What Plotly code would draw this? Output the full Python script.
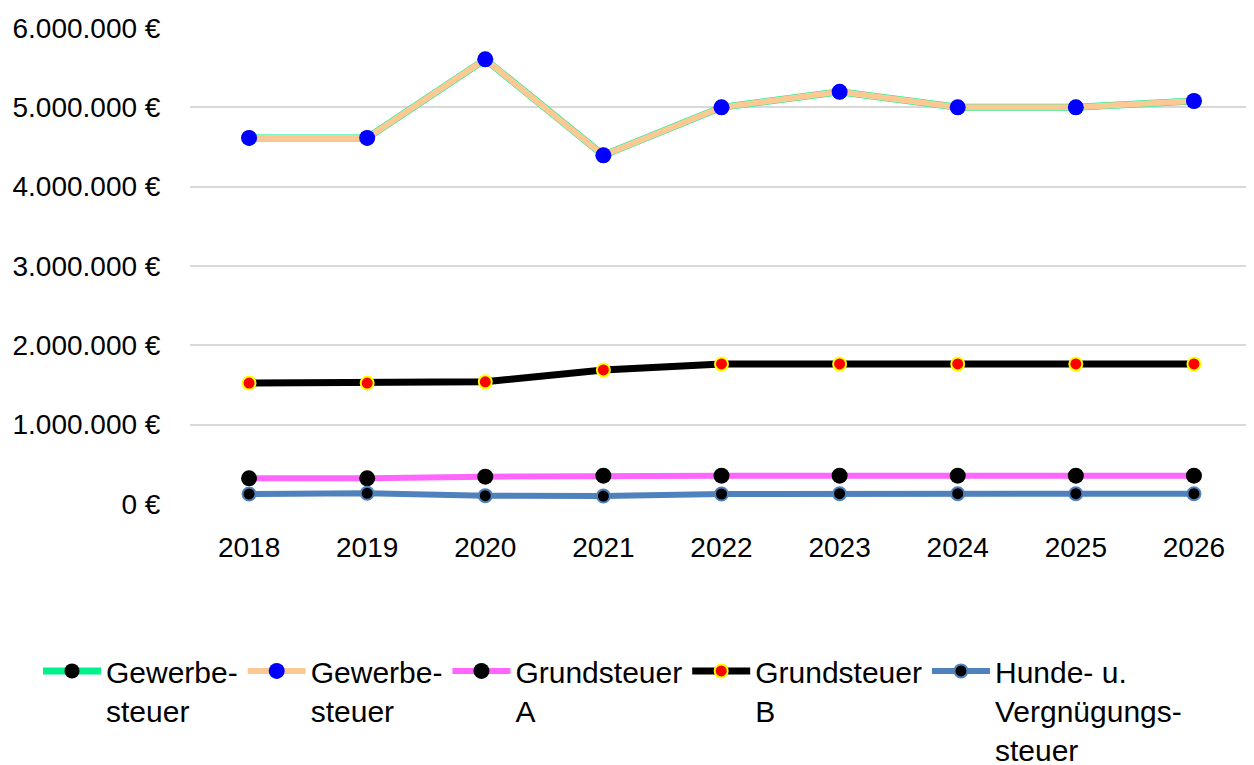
import plotly.graph_objects as go

years = ["2018", "2019", "2020", "2021", "2022", "2023", "2024", "2025", "2026"]
gewerbe = [4615000, 4615000, 5605000, 4395000, 5000000, 5195000, 5000000, 5000000, 5080000]
grund_a = [324000, 324000, 345000, 357000, 357000, 357000, 357000, 357000, 357000]
grund_b = [1525000, 1525000, 1540000, 1690000, 1765000, 1765000, 1765000, 1765000, 1765000]
hunde = [126000, 135000, 105000, 100000, 126000, 130000, 130000, 130000, 130000]

y_ticks = [0, 1000000, 2000000, 3000000, 4000000, 5000000, 6000000]
y_tick_text = ["0 €", "1.000.000 €", "2.000.000 €", "3.000.000 €", "4.000.000 €", "5.000.000 €", "6.000.000 €"]

names = ["Gewerbe-<br>steuer", "Gewerbe-<br>steuer", "Grundsteuer<br>A", "Grundsteuer<br>B",
         "Hunde- u.<br>Vergnügungs-<br>steuer"]

FONT = "Liberation Sans, Arial, sans-serif"

fig = go.Figure()
fig.add_trace(go.Scatter(x=years, y=gewerbe, name=names[0], mode="lines+markers",
                         line=dict(color="#00F08C", width=7),
                         marker=dict(color="black", size=15)))
fig.add_trace(go.Scatter(x=years, y=gewerbe, name=names[1], mode="lines+markers",
                         line=dict(color="#FCC995", width=6),
                         marker=dict(color="#0000FF", size=16)))
fig.add_trace(go.Scatter(x=years, y=grund_a, name=names[2], mode="lines+markers",
                         line=dict(color="#FF66FF", width=6),
                         marker=dict(color="black", size=16)))
fig.add_trace(go.Scatter(x=years, y=grund_b, name=names[3], mode="lines+markers",
                         line=dict(color="black", width=7),
                         marker=dict(color="#FF0000", size=13, line=dict(color="#FFFF00", width=2))))
fig.add_trace(go.Scatter(x=years, y=hunde, name=names[4], mode="lines+markers",
                         line=dict(color="#4F81BD", width=6),
                         marker=dict(color="black", size=13, line=dict(color="#4F81BD", width=2))))

fig.update_layout(
    width=1246, height=757,
    margin=dict(l=182, r=1, t=20, b=261, autoexpand=False),
    paper_bgcolor="white", plot_bgcolor="white",
    font=dict(family=FONT, size=28, color="black"),
    showlegend=True,
    legend=dict(orientation="h", x=-0.143, y=-0.296, xanchor="left", yanchor="top",
                valign="top", font=dict(size=30), itemwidth=58, tracegroupgap=0,
                traceorder="normal"),
)
fig.update_xaxes(type="category", range=[-0.5, 8.5], showgrid=False, zeroline=False,
                 showline=False, ticks="outside", ticklen=18, tickcolor="rgba(0,0,0,0)",
                 tickfont=dict(size=28), automargin=False)
fig.update_yaxes(range=[0, 6000000], tickvals=y_ticks, ticktext=y_tick_text,
                 showgrid=True, gridcolor="#D9D9D9", gridwidth=2, zeroline=False,
                 showline=False, ticks="outside", ticklen=23, tickcolor="rgba(0,0,0,0)",
                 tickfont=dict(size=28), automargin=False)

fig.write_html("out.html")
